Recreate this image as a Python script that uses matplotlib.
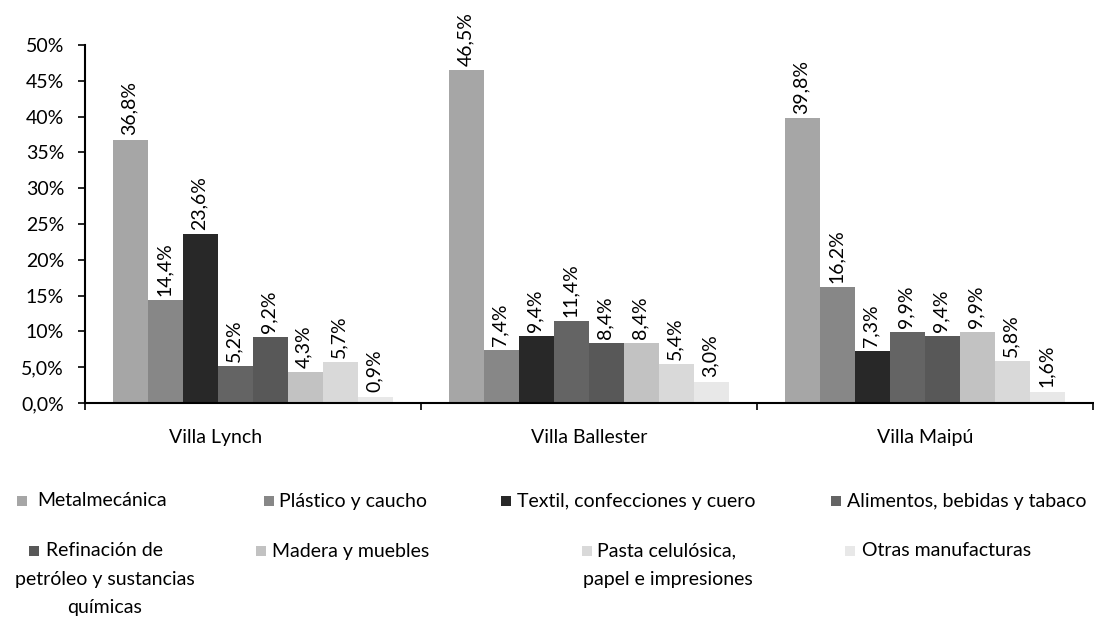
import matplotlib
matplotlib.use('Agg')
import matplotlib.pyplot as plt
from matplotlib.patches import Rectangle
import numpy as np

plt.rcParams['font.family'] = ['Lato', 'DejaVu Sans']

# Datos
localidades = ['Villa Lynch', 'Villa Ballester', 'Villa Maipú']
ramas = ['Metalmecánica', 'Plástico y caucho', 'Textil, confecciones y cuero',
         'Alimentos, bebidas y tabaco',
         'Refinación de\npetróleo y sustancias\nquímicas',
         'Madera y muebles', 'Pasta celulósica,\npapel e impresiones',
         'Otras manufacturas']
metalmecanica = [36.8, 46.5, 39.8]
plastico = [14.4, 7.4, 16.2]
textil = [23.6, 9.4, 7.3]
alimentos = [5.2, 11.4, 9.9]
refinacion = [9.2, 8.4, 9.4]
madera = [4.3, 8.4, 9.9]
pasta = [5.7, 5.4, 5.8]
otras = [0.9, 3.0, 1.6]
series = [metalmecanica, plastico, textil, alimentos, refinacion, madera, pasta, otras]
colores = ['#a6a6a6', '#878787', '#282828', '#646464', '#585858',
           '#c2c2c2', '#d9d9d9', '#e8e8e8']
yticks = [0, 5, 10, 15, 20, 25, 30, 35, 40, 45, 50]
ytick_labels = ['0,0%', '5,0%', '10%', '15%', '20%', '25%', '30%', '35%',
                '40%', '45%', '50%']

FS = 14
W, H = 1094, 620
fig = plt.figure(figsize=(W / 100, H / 100), dpi=100)
ax = fig.add_axes([85 / W, (H - 403) / H, (1093 - 85) / W, 358 / H])

x = np.arange(len(localidades))
w = 0.104
for i, (vals, col) in enumerate(zip(series, colores)):
    pos = x + (i - 3.5) * w
    bars = ax.bar(pos, vals, width=w, color=col, edgecolor='none')
    for b, v in zip(bars, vals):
        ax.annotate(f'{v:.1f}%'.replace('.', ','),
                    (b.get_x() + b.get_width() / 2, b.get_height()),
                    xytext=(-1, 3), textcoords='offset points',
                    rotation=90, ha='center', va='bottom', fontsize=FS)

ax.set_xlim(-0.5, 2.5)
ax.set_ylim(0, 50)
ax.set_yticks(yticks)
ax.set_yticklabels(ytick_labels, fontsize=FS)
# la etiqueta de Villa Lynch aparece corrida a la izquierda en el original
ax.set_xticks(x + np.array([-37 / 336, 0, 0]))
ax.set_xticklabels(localidades, fontsize=FS)
ax.set_xticks([-0.5, 0.5, 1.5, 2.5], minor=True)
ax.tick_params(axis='x', which='major', length=0, pad=19)
ax.tick_params(axis='x', which='minor', length=5, width=1.2, direction='out')
ax.tick_params(axis='y', length=5, width=1.2, direction='out', pad=10)
for s in ['top', 'right']:
    ax.spines[s].set_visible(False)
for s in ['left', 'bottom']:
    ax.spines[s].set_linewidth(1.5)

# Leyenda dibujada a mano: (x cuadrado, x texto, y) en píxeles
leyenda_pos = [(17, 37, 501), (264, 279, 501), (501, 517, 501), (831, 847, 501),
               (29, 46, 551), (256, 272, 551), (582, 597, 551), (845, 862, 551)]
centro_lineas = {4: 105, 6: 668}
for j, ((sx, tx, ty), nombre, col) in enumerate(zip(leyenda_pos, ramas, colores)):
    fig.patches.append(Rectangle((sx / W, 1 - (ty + 5) / H), 10 / W, 10 / H,
                                 transform=fig.transFigure, facecolor=col,
                                 edgecolor='none'))
    lineas = nombre.split('\n')
    fig.text(tx / W, 1 - ty / H, lineas[0], ha='left', va='center', fontsize=FS)
    for k, ln in enumerate(lineas[1:], start=1):
        fig.text(centro_lineas[j] / W, 1 - (ty + 28 * k) / H, ln, ha='center',
                 va='center', fontsize=FS)

fig.savefig('out.png', dpi=100)
